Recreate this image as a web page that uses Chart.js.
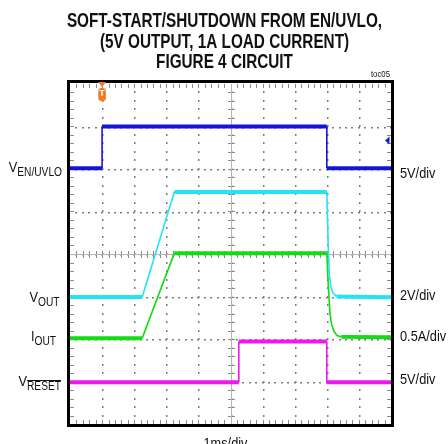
<!DOCTYPE html>
<html>
<head>
<meta charset="utf-8">
<script src="https://cdn.jsdelivr.net/npm/chart.js@4.4.0/dist/chart.umd.min.js"></script>
<style>
  html, body { margin: 0; padding: 0; background: #fff; }
  #wrap { width: 448px; height: 444px; }
</style>
</head>
<body>
<div id="wrap"><canvas id="scope"></canvas></div>
<script>
// time axis in divisions (1ms/div), levels in divisions from bottom of screen
const enTime = [0, 1.0, 1.0, 8.0, 8.0, 10];
const enLevel = [6.02, 6.02, 7.0, 7.0, 6.02, 6.02];

const voutTime = [0, 2.25, 3.25, 8.0, 8.04, 8.08, 8.13, 8.2, 8.3, 10];
const voutLevel = [2.99, 2.99, 5.46, 5.46, 4.3, 3.5, 3.22, 3.08, 3.0, 2.98];

const ioutTime = [0, 2.25, 3.25, 8.0, 8.05, 8.1, 8.15, 8.22, 8.32, 8.45, 10];
const ioutLevel = [2.02, 2.02, 4.02, 4.02, 3.2, 2.6, 2.35, 2.18, 2.08, 2.05, 2.04];

const resetTime = [0, 5.26, 5.26, 8.0, 8.0, 10];
const resetLevel = [0.98, 0.98, 1.94, 1.94, 0.98, 0.98];

const triggerTime = 1.0;
const triggerLevel = 6.67;

const titleLines = ["SOFT-START/SHUTDOWN FROM EN/UVLO,", "(5V OUTPUT, 1A LOAD CURRENT)", "FIGURE 4 CIRCUIT"];
const traceNames = [["V", "EN/UVLO"], ["V", "OUT"], ["I", "OUT"], ["V", "RESET"]];
const scaleLabels = ["5V/div", "2V/div", "0.5A/div", "5V/div"];
const timeLabel = "1ms/div";
const figTag = "toc05";

const FONT = "'Liberation Sans', Arial, sans-serif";

function toPoints(xs, ys) {
    return xs.map((x, i) => ({ x: x, y: ys[i] }));
}

// scope traces: noisy flat parts drawn thick, edges thin
function trace(label, xs, ys, color) {
    return {
        label: label,
        data: toPoints(xs, ys),
        borderColor: color,
        borderWidth: 1.5,
        pointRadius: 0,
        tension: 0,
        segment: {
            borderWidth: ctx => Math.abs(ctx.p1.parsed.y - ctx.p0.parsed.y) < 0.03 ? 4 : 1.6
        }
    };
}

function narrowText(ctx, str, x, y, font, align, sx) {
    ctx.save();
    ctx.font = font;
    const w = ctx.measureText(str).width * sx;
    let x0 = x;
    if (align === "right") x0 = x - w;
    if (align === "center") x0 = x - w / 2;
    ctx.translate(x0, y);
    ctx.scale(sx, 1);
    ctx.textAlign = "left";
    ctx.textBaseline = "alphabetic";
    ctx.fillText(str, 0, 0);
    ctx.restore();
    return w;
}

function subLabel(ctx, main, sub, right, base, overline) {
    const sx = 0.85;
    ctx.font = "15px " + FONT;
    const w1 = ctx.measureText(main).width * sx;
    ctx.font = "12px " + FONT;
    const w2 = ctx.measureText(sub).width * sx;
    const left = right - w1 - w2;
    narrowText(ctx, main, left, base, "15px " + FONT, "left", sx);
    narrowText(ctx, sub, left + w1, base + 4, "12px " + FONT, "left", sx);
    if (overline) {
        ctx.save();
        ctx.strokeStyle = "#111";
        ctx.lineWidth = 1;
        ctx.beginPath();
        ctx.moveTo(left + w1, base - 5.5);
        ctx.lineTo(right, base - 5.5);
        ctx.stroke();
        ctx.restore();
    }
}

const scopeDeco = {
    id: "scopeDeco",
    beforeDatasetsDraw(chart) {
        const { ctx, chartArea: a, scales: { x, y } } = chart;
        ctx.save();
        // dotted graticule
        ctx.fillStyle = "#7c7c7c";
        for (let gx = 1; gx < 10; gx++) {
            const px = Math.round(x.getPixelForValue(gx));
            for (let v = 0.2; v < 8; v += 0.2) {
                ctx.fillRect(px, Math.round(y.getPixelForValue(v)) - 1, 1.5, 2);
            }
        }
        for (let gy = 1; gy < 8; gy++) {
            const py = Math.round(y.getPixelForValue(gy));
            for (let v = 0.2; v < 10; v += 0.2) {
                ctx.fillRect(Math.round(x.getPixelForValue(v)) - 1, py, 2, 1.5);
            }
        }
        // minor ticks on centre axes and frame edges
        ctx.strokeStyle = "#8a8a8a";
        ctx.lineWidth = 1;
        ctx.beginPath();
        const cx = Math.round(x.getPixelForValue(5)) + 0.5;
        const cy = Math.round(y.getPixelForValue(4)) + 0.5;
        for (let v = 0.2; v < 10; v += 0.2) {
            const px = Math.round(x.getPixelForValue(v)) + 0.5;
            ctx.moveTo(px, cy - 3.5); ctx.lineTo(px, cy + 3.5);
            ctx.moveTo(px, a.top); ctx.lineTo(px, a.top + 4);
            ctx.moveTo(px, a.bottom); ctx.lineTo(px, a.bottom - 4);
        }
        for (let v = 0.2; v < 8; v += 0.2) {
            const py = Math.round(y.getPixelForValue(v)) + 0.5;
            ctx.moveTo(cx - 3.5, py); ctx.lineTo(cx + 3.5, py);
            ctx.moveTo(a.left, py); ctx.lineTo(a.left + 4, py);
            ctx.moveTo(a.right, py); ctx.lineTo(a.right - 4, py);
        }
        ctx.stroke();
        ctx.strokeStyle = "#b4b4b4";
        ctx.beginPath();
        ctx.moveTo(a.left, cy); ctx.lineTo(a.right, cy);
        ctx.moveTo(cx, a.top); ctx.lineTo(cx, a.bottom);
        ctx.stroke();
        ctx.restore();
    },
    afterDatasetsDraw(chart) {
        const { ctx, chartArea: a, scales: { x, y } } = chart;
        ctx.save();
        // frame
        ctx.strokeStyle = "#000";
        ctx.lineWidth = 3;
        ctx.strokeRect(a.left - 1.5, a.top - 2.5, a.right - a.left + 3, a.bottom - a.top + 4);

        // trigger position marker
        const tx = x.getPixelForValue(triggerTime);
        ctx.fillStyle = "#f07a22";
        ctx.beginPath();
        ctx.moveTo(tx - 4, a.top - 2);
        ctx.lineTo(tx + 4, a.top - 2);
        ctx.lineTo(tx, a.top + 3);
        ctx.closePath();
        ctx.fill();
        ctx.beginPath();
        ctx.roundRect(tx - 3.8, a.top + 4, 7.6, 13, 3);
        ctx.fill();
        ctx.fillStyle = "#fff";
        ctx.font = "bold 9px " + FONT;
        ctx.textAlign = "center";
        ctx.textBaseline = "middle";
        ctx.fillText("T", tx, a.top + 10);

        // trigger level marker
        const ty = y.getPixelForValue(triggerLevel);
        ctx.fillStyle = "#1a1ad0";
        ctx.beginPath();
        ctx.moveTo(a.right - 6, ty);
        ctx.lineTo(a.right - 1.5, ty - 4);
        ctx.lineTo(a.right - 1.5, ty + 4);
        ctx.closePath();
        ctx.fill();

        // texts
        ctx.fillStyle = "#111";
        const tBase = [26.5, 47.5, 68];
        titleLines.forEach((t, i) => narrowText(ctx, t, 224.5, tBase[i], "bold 19.5px " + FONT, "center", 0.785));
        narrowText(ctx, figTag, 390, 77, "9.5px " + FONT, "right", 0.82);

        const lRight = [62, 59.5, 56, 61];
        const lBase = [171.5, 301.5, 340.5, 386];
        traceNames.forEach((n, i) => subLabel(ctx, n[0], n[1], lRight[i], lBase[i], i === 3));

        const rBase = [178, 299.5, 341, 384];
        scaleLabels.forEach((s, i) => narrowText(ctx, s, 400, rBase[i], "14.5px " + FONT, "left", 0.88));

        narrowText(ctx, timeLabel, 225.5, 447.5, "14.5px " + FONT, "center", 0.88);
        ctx.restore();
    }
};

new Chart(document.getElementById("scope"), {
    type: "line",
    data: {
        datasets: [
            trace("EN/UVLO", enTime, enLevel, "#1515d6"),
            trace("VOUT", voutTime, voutLevel, "#22e4f4"),
            trace("IOUT", ioutTime, ioutLevel, "#12dc12"),
            trace("RESET", resetTime, resetLevel, "#ee18ee")
        ]
    },
    options: {
        responsive: true,
        maintainAspectRatio: false,
        animation: false,
        layout: {
            padding: { left: 70, right: 57, top: 84, bottom: 20 }
        },
        scales: {
            x: {
                type: "linear",
                min: 0,
                max: 10,
                ticks: { display: false, stepSize: 1 },
                grid: { display: false, drawTicks: false },
                border: { display: false }
            },
            y: {
                type: "linear",
                min: 0,
                max: 8,
                ticks: { display: false, stepSize: 1 },
                grid: { display: false, drawTicks: false },
                border: { display: false }
            }
        },
        plugins: {
            legend: { display: false },
            title: { display: false },
            tooltip: { enabled: false }
        }
    },
    plugins: [scopeDeco]
});
</script>
</body>
</html>
